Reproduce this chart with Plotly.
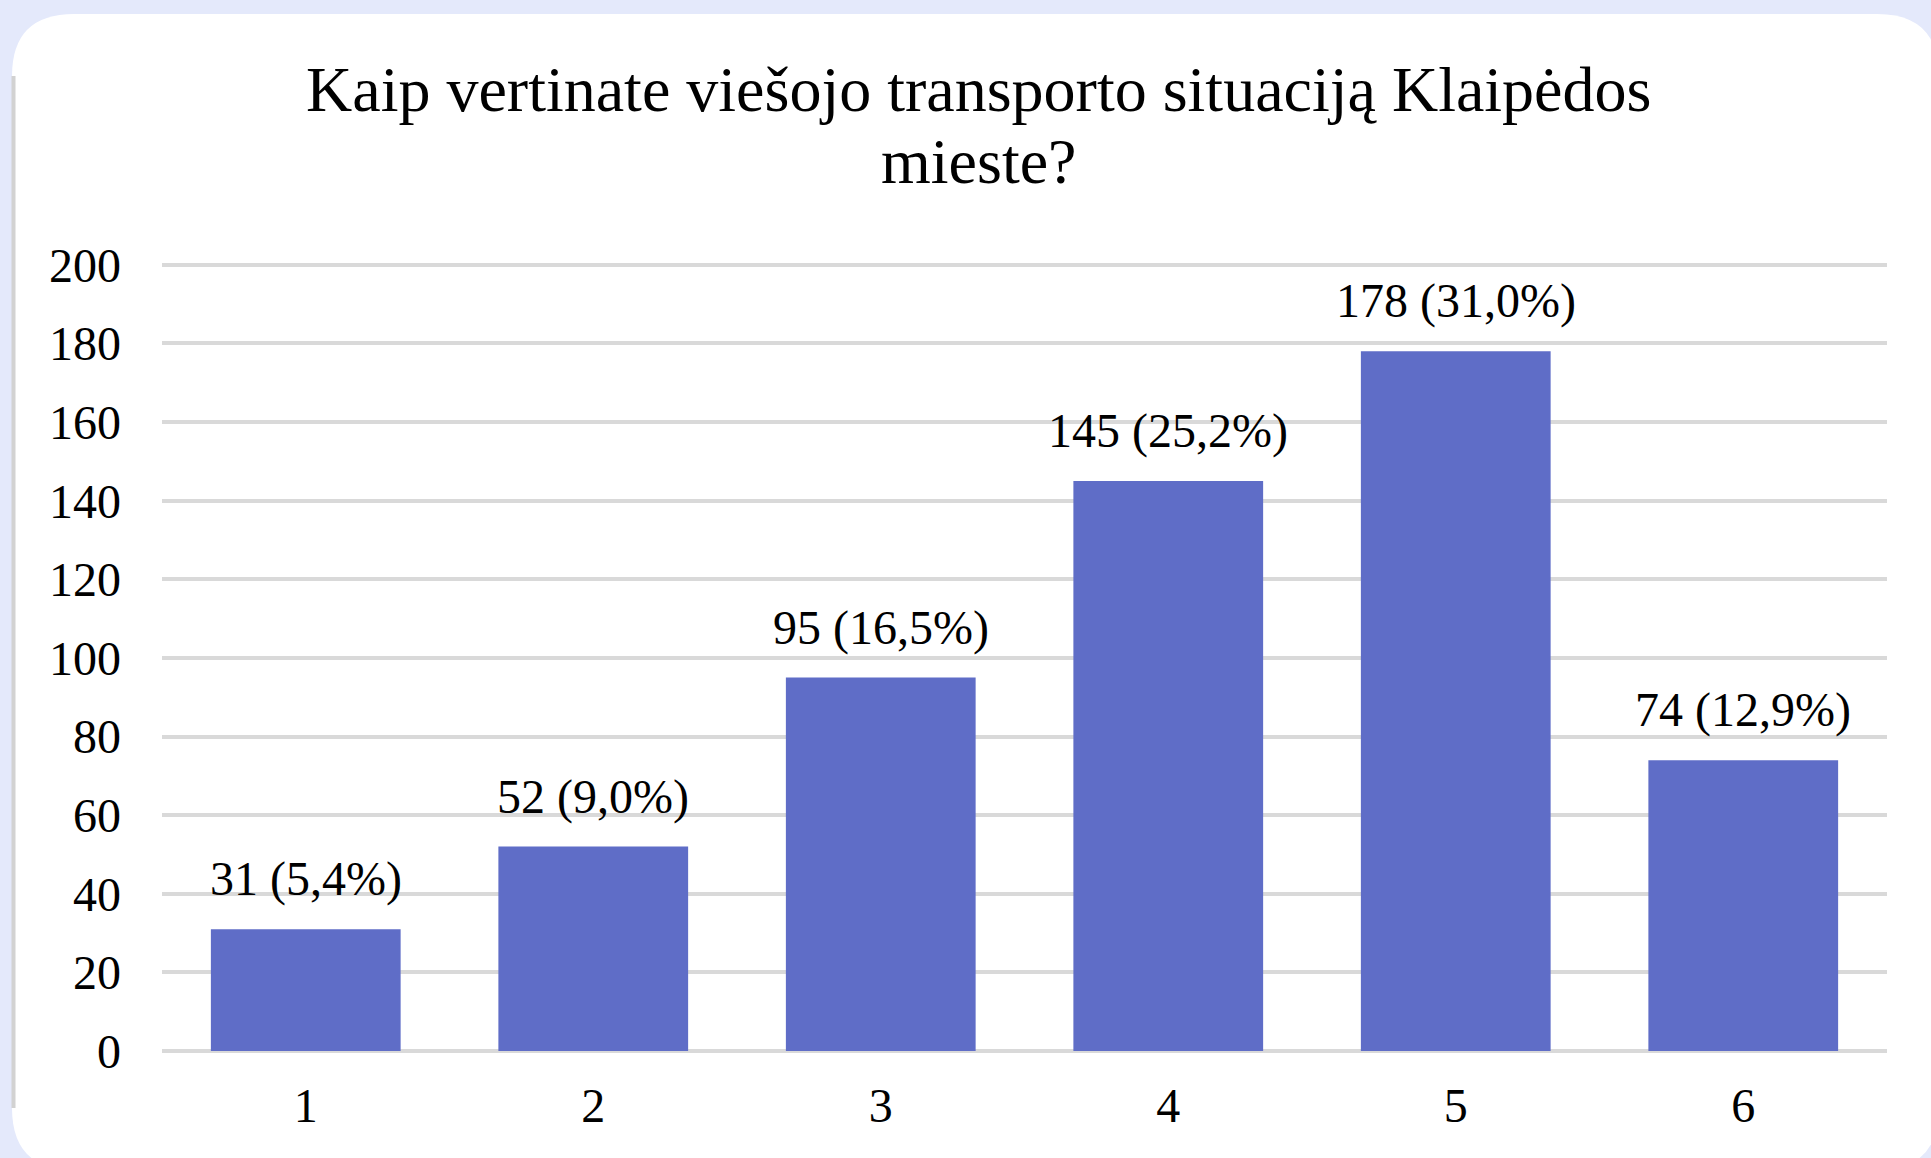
import plotly.graph_objects as go

# ── Data ──────────────────────────────────────────────────
categories = ["1", "2", "3", "4", "5", "6"]
counts = [31, 52, 95, 145, 178, 74]
percents = [5.4, 9.0, 16.5, 25.2, 31.0, 12.9]
y_ticks = [0, 20, 40, 60, 80, 100, 120, 140, 160, 180, 200]
title_lines = ["Kaip vertinate viešojo transporto situaciją Klaipėdos", "mieste?"]

BG = "#e4e9fb"
BAR = "#5f6dc7"
GRID = "#d9d9d9"
FONT = "Liberation Serif, Times New Roman, serif"

W, H = 1931, 1158
L, R, T, B = 162, 44, 257, 107
PW, PH = W - L - R, H - T - B


def px(x):
    return (x - L) / PW


def py(y):
    return (H - B - y) / PH


def card_path(x0, y0, x1, y1, r):
    pts = [
        f"M {px(x0 + r)},{py(y0)}",
        f"L {px(x1 - r)},{py(y0)}",
        f"Q {px(x1)},{py(y0)} {px(x1)},{py(y0 + r)}",
        f"L {px(x1)},{py(y1 - r)}",
        f"Q {px(x1)},{py(y1)} {px(x1 - r)},{py(y1)}",
        f"L {px(x0 + r)},{py(y1)}",
        f"Q {px(x0)},{py(y1)} {px(x0)},{py(y1 - r)}",
        f"L {px(x0)},{py(y0 + r)}",
        f"Q {px(x0)},{py(y0)} {px(x0 + r)},{py(y0)}",
        "Z",
    ]
    return " ".join(pts)


fig = go.Figure(
    go.Bar(
        x=categories,
        y=counts,
        marker=dict(color=BAR, line=dict(width=0)),
        width=0.66,
        hovertemplate="%{x}: %{y}<extra></extra>",
    )
)

labels = [f"{c} ({p:.1f}%)".replace(".", ",") for c, p in zip(counts, percents)]
annotations = [
    dict(
        x=i,  # category index on the category axis
        y=val,
        text=lab,
        showarrow=False,
        yanchor="bottom",
        yshift=21,
        font=dict(size=48, color="#000", family=FONT),
    )
    for i, (val, lab) in enumerate(zip(counts, labels))
]

# title as two centred lines (tight line spacing as in the original)
for line, ypix in zip(title_lines, [90, 161]):
    annotations.append(
        dict(
            xref="paper",
            yref="paper",
            x=px(978),
            y=py(ypix),
            text=line,
            showarrow=False,
            xanchor="center",
            yanchor="middle",
            font=dict(size=64, color="#000", family=FONT),
        )
    )

shapes = [
    dict(
        type="path",
        xref="paper",
        yref="paper",
        path=card_path(12, 14, 1939, 1170, 62),
        fillcolor="#ffffff",
        line=dict(width=0),
        layer="below",
    ),
    dict(
        type="line",
        xref="paper",
        yref="paper",
        x0=px(13.5),
        x1=px(13.5),
        y0=py(76),
        y1=py(1108),
        line=dict(color="#d2d2d2", width=4),
        layer="below",
    ),
]

fig.update_layout(
    width=W,
    height=H,
    margin=dict(l=L, r=R, t=T, b=B, pad=0),
    paper_bgcolor=BG,
    plot_bgcolor="rgba(0,0,0,0)",
    font=dict(family=FONT, color="#000", size=48),
    showlegend=False,
    annotations=annotations,
    shapes=shapes,
    xaxis=dict(
        type="category",
        range=[-0.5, 5.5],
        showgrid=False,
        showline=False,
        zeroline=False,
        ticks="",
        ticklabelstandoff=22,
        tickfont=dict(size=48, family=FONT, color="#000"),
    ),
    yaxis=dict(
        range=[0, 202],
        tickvals=y_ticks,
        showgrid=True,
        gridcolor=GRID,
        gridwidth=4,
        zeroline=True,
        zerolinecolor=GRID,
        zerolinewidth=4,
        showline=False,
        ticks="",
        ticklabelstandoff=40,
        tickfont=dict(size=48, family=FONT, color="#000"),
    ),
)

fig.write_html(
    "out.html",
    config={"displayModeBar": False},
    post_script="document.body.style.margin='0';",
)
